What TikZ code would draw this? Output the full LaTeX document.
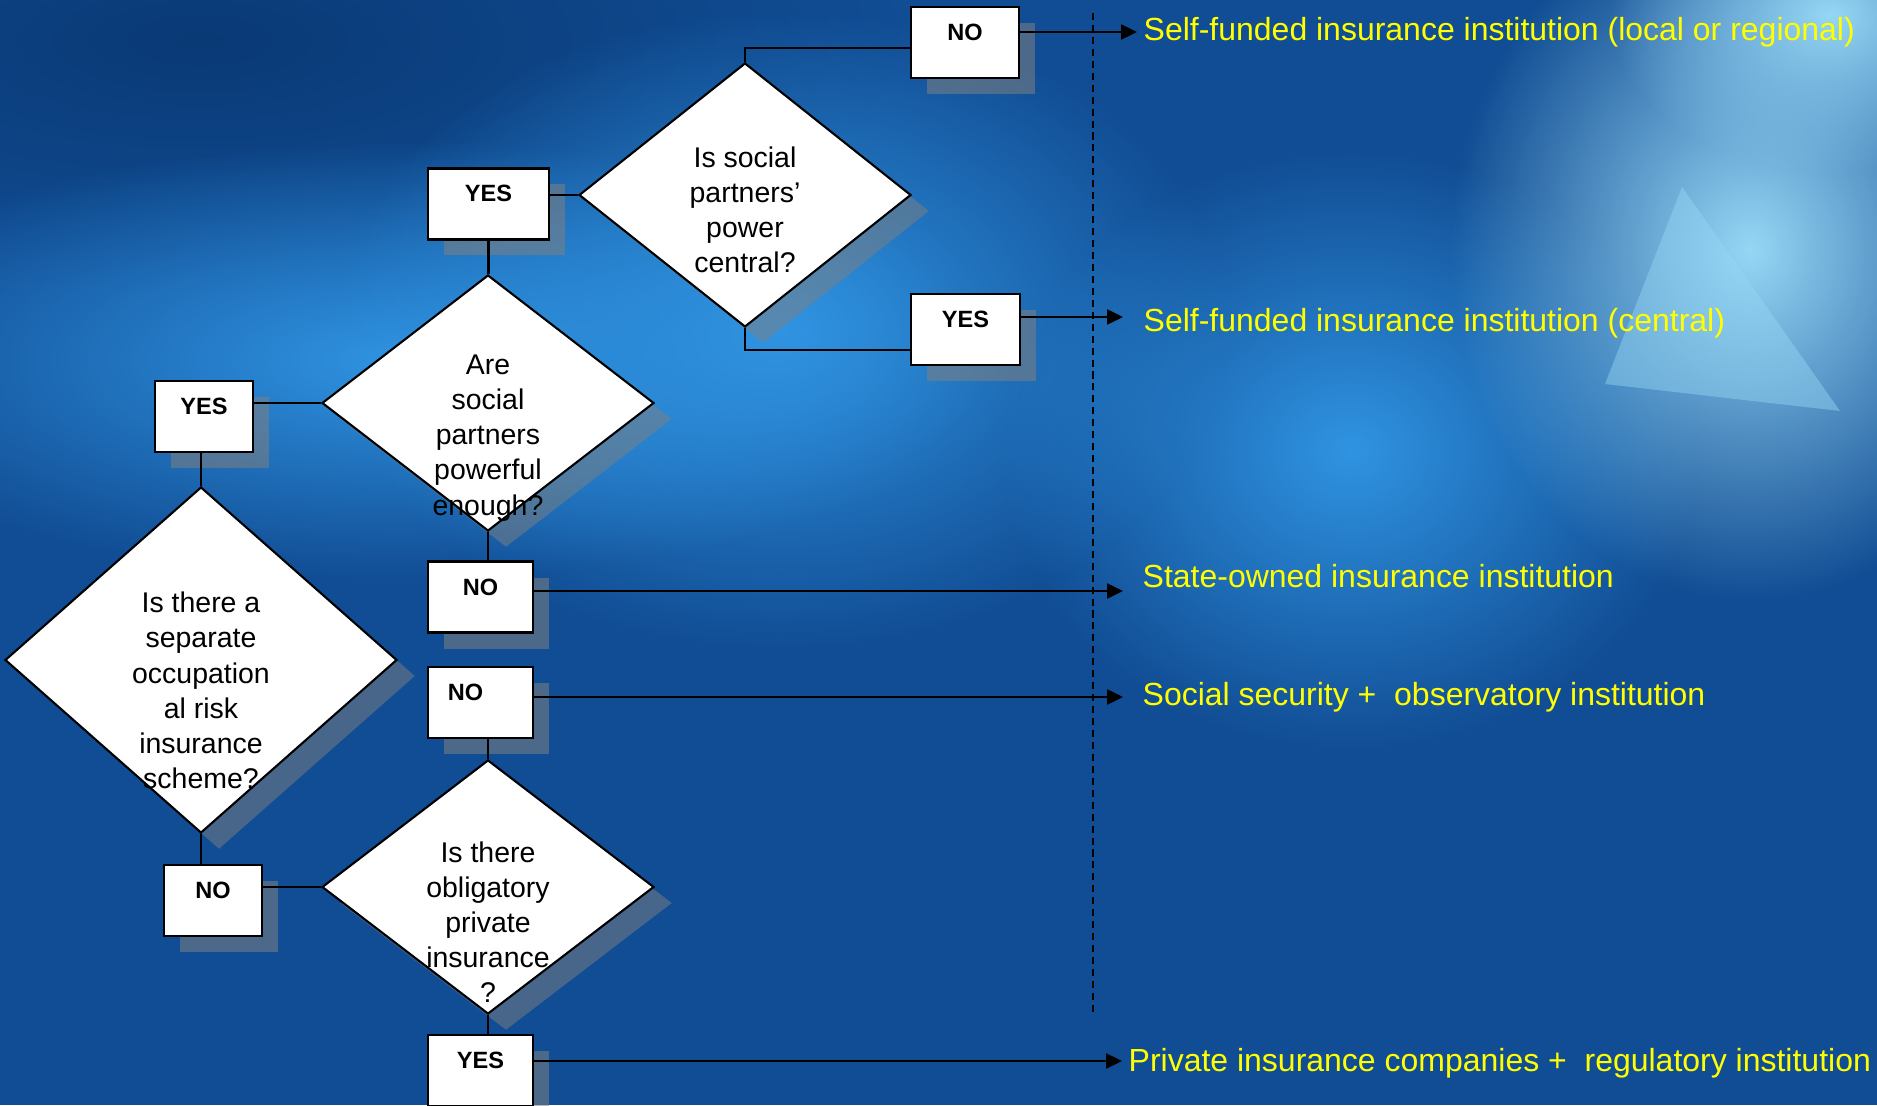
\documentclass[tikz,border=0pt]{standalone}
\usepackage{fontspec}
\setmainfont{Liberation Sans}
\usetikzlibrary{shapes.geometric,shadows,arrows.meta,fadings}
\definecolor{bgbase}{RGB}{17,77,148}
\definecolor{bgdark}{RGB}{10,58,118}
\definecolor{bgbright}{RGB}{48,148,226}
\definecolor{bgpale}{RGB}{150,215,245}
\definecolor{outyellow}{RGB}{255,255,0}
\tikzfading[name=softblob, inner color=transparent!0, outer color=transparent!100]
\tikzset{
  glow/.style={path fading=softblob},
  decision/.style={diamond, draw=black, fill=white, line width=0.6pt, inner sep=0pt},
  decisionshade/.style={diamond, fill=gray, opacity=0.5, inner sep=0pt},
  question/.style={align=center, inner sep=0pt, font=\fontsize{8.1}{10}\selectfont},
  answer/.style={draw=black, fill=white, line width=0.7pt, inner sep=0pt,
    minimum height=0.71cm, text height=0.335cm, text depth=0.375cm,
    font=\fontsize{6.7}{8}\selectfont\bfseries,
    drop shadow={shadow xshift=0.16cm, shadow yshift=-0.16cm, fill=gray, opacity=0.55}},
  link/.style={draw=black, line width=0.6pt},
  outlink/.style={draw=black, line width=0.7pt, -{Triangle[length=0.16cm, width=0.15cm]}},
  outcome/.style={anchor=west, inner sep=0pt, text=outyellow, font=\fontsize{9.1}{11}\selectfont},
  divider/.style={draw=black, line width=0.6pt, dash pattern=on 2pt off 1.4pt},
}

\begin{document}
\begin{tikzpicture}
\useasboundingbox (0,0) rectangle (18.77,11.05);
\clip (0,0) rectangle (18.77,11.05);
\fill[bgbase] (0,0) rectangle (18.77,11.05);
\fill[bgdark, glow] (2.0,10.65) ellipse (7.0 and 2.5);
\fill[bgbright, glow] (4.0,7.45) ellipse (6.0 and 2.2);
\fill[bgbright, glow] (7.8,7.75) ellipse (4.5 and 3.2);
\fill[bgbright, glow] (13.5,6.55) ellipse (3.5 and 3.0);
\fill[bgpale, glow] (17.5,8.55) ellipse (3.0 and 3.5);
\fill[bgpale, glow] (18.3,10.9) ellipse (2.2 and 1.6);
\fill[bgpale, opacity=0.45] (16.82,9.18) -- (18.40,6.94) -- (16.05,7.21) -- cycle;

\coordinate (dashtop) at (10.93,10.92);
\coordinate (dashbot) at (10.93,0.90);
\draw[divider] (dashtop) -- (dashbot);

\node[decisionshade, minimum width=3.32cm, minimum height=2.64cm] (q1s) at (7.63,8.94) {};
\node[decisionshade, minimum width=3.32cm, minimum height=2.56cm] (q2s) at (5.06,6.86) {};
\node[decisionshade, minimum width=3.92cm, minimum height=3.46cm] (q3s) at (2.19,4.29) {};
\node[decisionshade, minimum width=3.32cm, minimum height=2.54cm] (q4s) at (5.06,2.02) {};

\node[decision, minimum width=3.32cm, minimum height=2.64cm] (q1) at (7.45,9.10) {};
\node[question] (q1t) at ([yshift=-0.15cm]q1.center) {Is social\\partners’\\power\\central?};
\node[decision, minimum width=3.32cm, minimum height=2.56cm] (q2) at (4.88,7.02) {};
\node[question] (q2t) at ([yshift=-0.35cm]q2.center) {Are\\social\\partners\\powerful\\enough?};
\node[decision, minimum width=3.92cm, minimum height=3.46cm] (q3) at (2.01,4.45) {};
\node[question] (q3t) at ([yshift=-0.305cm]q3.center) {Is there a\\separate\\occupation\\al risk\\insurance\\scheme?};
\node[decision, minimum width=3.32cm, minimum height=2.54cm] (q4) at (4.88,2.18) {};
\node[question] (q4t) at ([yshift=-0.35cm]q4.center) {Is there\\obligatory\\private\\insurance\\?};

\node[answer, minimum width=1.08cm] (noA) at (9.650,10.625) {NO};
\node[answer, minimum width=1.09cm] (yesA) at (9.655,7.755) {YES};
\node[answer, minimum width=1.21cm] (yesB) at (4.885,9.010) {YES};
\node[answer, minimum width=0.98cm] (yesC) at (2.040,6.885) {YES};
\node[answer, minimum width=1.05cm] (noB) at (4.805,5.080) {NO};
\node[answer, minimum width=1.05cm] (noC) at (4.805,4.025) {NO\rule{0.3cm}{0pt}};
\node[answer, minimum width=0.98cm] (noD) at (2.130,2.045) {NO};
\node[answer, minimum width=1.05cm] (yesD) at (4.805,0.345) {YES};

\draw[link] (q1.north) |- ([yshift=-0.055cm]noA.west);
\draw[link] (q1.south) |- ([yshift=-0.205cm]yesA.west);
\draw[link] (q1.west) -- (q1.west -| yesB.east);
\draw[link] (yesB.south) -- (yesB.south |- q2.north);
\draw[link] (q2.west) -- (q2.west -| yesC.east);
\draw[link] (q2.south) -- (q2.south |- noB.north);
\draw[link] (yesC.south -| q3.north) -- (q3.north);
\draw[link] (q3.south) -- (q3.south |- noD.north);
\draw[link] (q4.west) -- (q4.west -| noD.east);
\draw[link] (q4.north) -- (q4.north |- noC.south);
\draw[link] (q4.south) -- (q4.south |- yesD.north);

\coordinate (tip1) at (11.37,10.73);
\coordinate (tip2) at (11.23,7.88);
\coordinate (tip3) at (11.23,5.14);
\coordinate (tip4) at (11.23,4.08);
\coordinate (tip5) at (11.22,0.44);
\draw[outlink] (noA.east |- tip1) -- (tip1);
\draw[outlink] (yesA.east |- tip2) -- (tip2);
\draw[outlink] (noB.east |- tip3) -- (tip3);
\draw[outlink] (noC.east |- tip4) -- (tip4);
\draw[outlink] (yesD.east |- tip5) -- (tip5);

\node[outcome] (out1) at (11.43,10.73) {Self-funded insurance institution (local or regional)};
\node[outcome] (out2) at (11.43,7.82) {Self-funded insurance institution (central)};
\node[outcome] (out3) at (11.42,5.29) {State-owned insurance institution};
\node[outcome] (out4) at (11.42,4.08) {Social security +~ observatory institution};
\node[outcome] (out5) at (11.28,0.42) {Private insurance companies +~ regulatory institution};
\end{tikzpicture}
\end{document}
